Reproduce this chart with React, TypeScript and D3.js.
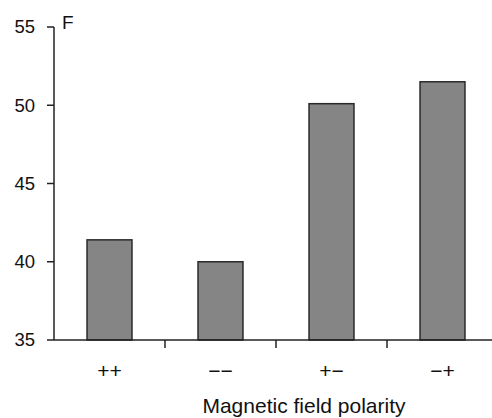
import React from "react";
import * as d3 from "d3";

const categories = ["++", "−−", "+−", "−+"];
const values = [41.4, 40.0, 50.1, 51.5];
const yTicks = [35, 40, 45, 50, 55];
const yLabel = "F";
const xTitle = "Magnetic field polarity";

export default function App() {
  const W = 492, H = 418;
  const left = 54, top = 27, bottom = 340;
  const step = 111;
  const x = d3
    .scaleBand<string>()
    .domain(categories)
    .range([left, left + step * categories.length])
    .paddingInner(0.595)
    .paddingOuter(0.2975);
  const y = d3.scaleLinear().domain([35, 55]).range([bottom, top]);
  const font = "'Liberation Sans', Arial, sans-serif";
  const bw = x.bandwidth();
  const stp = x.step();
  return (
    <svg width={W} height={H} style={{ position: "absolute", left: 0, top: 0, background: "#fff" }} fontFamily={font}>
      {categories.map((c, i) => (
        <rect
          key={c}
          x={x(c)!}
          y={y(values[i])}
          width={bw}
          height={y(35) - y(values[i])}
          fill="#858585"
          stroke="#2a2a2a"
          strokeWidth={1.5}
        />
      ))}
      <line x1={left} x2={W} y1={bottom} y2={bottom} stroke="#222" strokeWidth={1.5} />
      <line x1={left} x2={left} y1={top} y2={bottom} stroke="#222" strokeWidth={1.5} />
      {yTicks.map((t) => (
        <g key={t}>
          <line x1={left - 7} x2={left} y1={y(t)} y2={y(t)} stroke="#222" strokeWidth={1.5} />
          <text x={left - 19} y={y(t)} dy="0.35em" textAnchor="end" fontSize={18.5} fill="#111">
            {t}
          </text>
        </g>
      ))}
      {categories.slice(0, -1).map((c) => {
        const xx = x(c)! + bw / 2 + stp / 2;
        return <line key={"t" + c} x1={xx} x2={xx} y1={bottom} y2={bottom + 8} stroke="#222" strokeWidth={1.5} />;
      })}
      {categories.map((c) => (
        <text key={"l" + c} x={x(c)! + bw / 2} y={378} textAnchor="middle" fontSize={21} fill="#111">
          {c}
        </text>
      ))}
      <text x={62} y={29} fontSize={19} fill="#111">
        {yLabel}
      </text>
      <text x={304} y={413} textAnchor="middle" fontSize={21} fill="#111">
        {xTitle}
      </text>
    </svg>
  );
}
